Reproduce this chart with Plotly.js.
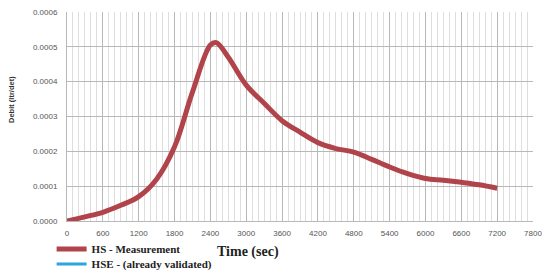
<!DOCTYPE html>
<html>
<head>
<meta charset="utf-8">
<script src="https://cdn.plot.ly/plotly-3.0.1.min.js"></script>
<style>html,body{margin:0;padding:0;background:#fff;}#chart{width:542px;height:273px;}</style>
</head>
<body>
<div id="chart"></div>
<script>
var timeSec = [0,300,600,900,1200,1500,1800,2100,2400,2500,2700,3000,3300,3600,3900,4200,4500,4800,5100,5400,5700,6000,6300,6600,6900,7200];
var hsMeasurement = [0,0.000012,0.000025,0.000045,0.00007,0.00012,0.000213,0.00037,0.000505,0.000512,0.00047,0.00039,0.000338,0.000288,0.000255,0.000225,0.000208,0.000198,0.000177,0.000155,0.000136,0.000122,0.000117,0.000111,0.000104,0.000094];
var hseValidated = [];
var hseTime = [];
var xTicks = [0,600,1200,1800,2400,3000,3600,4200,4800,5400,6000,6600,7200,7800];
var yTicks = [0,0.0001,0.0002,0.0003,0.0004,0.0005,0.0006];

var traces = [
  {x: timeSec, y: hsMeasurement, type: 'scatter', mode: 'lines', name: '<b>HS - Measurement</b>',
   legend: 'legend',
   line: {color: '#b0444a', width: 5, shape: 'spline', smoothing: 1}},
  {x: hseTime.length ? hseTime : [null], y: hseValidated.length ? hseValidated : [null], type: 'scatter', mode: 'lines', name: '<b>HSE - (already validated)</b>',
   legend: 'legend2',
   line: {color: '#2aa5dd', width: 3}}
];

var legendFont = {family: 'Liberation Serif', size: 11, color: '#222'};
var layout = {
  width: 542, height: 273,
  margin: {l: 67, r: 9, t: 12, b: 52, autoexpand: false},
  paper_bgcolor: '#fff', plot_bgcolor: '#fff',
  showlegend: true,
  legend: {x: -0.033, y: -0.134, xanchor: 'left', yanchor: 'middle', orientation: 'v',
           font: legendFont, bgcolor: 'rgba(0,0,0,0)', itemwidth: 30},
  legend2: {x: -0.033, y: -0.206, xanchor: 'left', yanchor: 'middle', orientation: 'v',
           font: legendFont, bgcolor: 'rgba(0,0,0,0)', itemwidth: 30},
  xaxis: {range: [0, 7800], tickvals: xTicks, ticktext: xTicks.map(String),
          showgrid: true, gridcolor: '#b8b8b8', gridwidth: 1,
          minor: {dtick: 100, tick0: 0, showgrid: true, gridcolor: '#dedede', gridwidth: 1},
          zeroline: false, showline: true, linecolor: '#b8b8b8', ticks: '', ticklabelstandoff: 4,
          ticklabeloverflow: 'allow',
          tickfont: {family: 'Liberation Sans', size: 8, color: '#555'}},
  yaxis: {range: [0, 0.0006], tickvals: yTicks, tickformat: '.4f',
          showgrid: true, gridcolor: '#b8b8b8', gridwidth: 1,
          zeroline: false, showline: true, linecolor: '#b8b8b8', ticks: '', ticklabelstandoff: 7,
          tickfont: {family: 'Liberation Sans', size: 8, color: '#555'}},
  annotations: [
    {text: '<b>Time (sec)</b>', xref: 'paper', yref: 'paper', x: 0.389, y: -0.10, xanchor: 'center', yanchor: 'top',
     showarrow: false, font: {family: 'Liberation Serif', size: 14, color: '#222'}},
    {text: '<b>Debit (ltr/det)</b>', xref: 'paper', yref: 'paper', x: -0.118, y: 0.579, xanchor: 'center', yanchor: 'middle',
     textangle: -90, showarrow: false, font: {family: 'Liberation Sans', size: 7.5, color: '#333'}}
  ]
};
Plotly.newPlot('chart', traces, layout, {displayModeBar: false, staticPlot: true});
</script>
</body>
</html>
